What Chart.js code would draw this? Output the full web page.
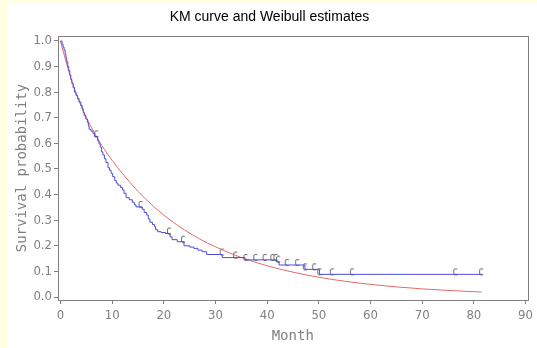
<!DOCTYPE html>
<html>
<head>
<meta charset="utf-8">
<script src="https://cdn.jsdelivr.net/npm/chart.js@4"></script>
<style>
  body { margin: 0; background: #ffffe1; }
  #wrap { position: absolute; left: 7px; top: 4px; width: 530px; height: 344px; background: #fff; }
</style>
</head>
<body>
<div id="wrap"><canvas id="km" width="530" height="344"></canvas></div>
<script>
// Kaplan-Meier estimate: month of each drop and survival after it
const kmMonths = [0, 0.3, 0.5, 0.7, 0.9, 1.05, 1.2, 1.4, 1.6, 1.8, 2.0, 2.2, 2.45, 2.7, 3.0, 3.3, 3.6, 3.95, 4.2, 4.4,
  4.6, 4.9, 5.2, 5.4, 5.55, 5.9, 6.3, 6.6, 7.2, 7.45, 7.7, 7.95, 8.2, 8.5, 8.8, 9.2, 9.5, 9.8, 10.1, 10.5,
  10.8, 11.1, 11.6, 12.0, 12.3, 12.7, 13.3, 13.9, 14.3, 14.6, 15.8, 16.2, 16.7, 17.0, 17.3, 17.8, 18.2, 18.4, 18.8, 19.5,
  20.3, 21.2, 21.6, 22.6, 23.9, 25.0, 25.8, 26.6, 27.4, 28.3, 31.3, 35.7, 41.75, 42.3, 47.3, 50.1, 81.6];
const kmSurv = [1.0, 0.988, 0.976, 0.965, 0.95, 0.935, 0.92, 0.9, 0.885, 0.867, 0.85, 0.834, 0.818, 0.8, 0.788, 0.775, 0.762, 0.748, 0.735, 0.72,
  0.708, 0.695, 0.682, 0.668, 0.655, 0.648, 0.638, 0.627, 0.61, 0.598, 0.585, 0.567, 0.555, 0.54, 0.525, 0.505, 0.495, 0.483, 0.47, 0.455,
  0.445, 0.437, 0.428, 0.418, 0.405, 0.388, 0.38, 0.37, 0.36, 0.352, 0.343, 0.33, 0.32, 0.305, 0.292, 0.283, 0.275, 0.263, 0.255, 0.252,
  0.248, 0.235, 0.224, 0.216, 0.2, 0.195, 0.19, 0.183, 0.177, 0.166, 0.154, 0.145, 0.138, 0.125, 0.108, 0.0885, 0.0885];

// censored observations (C marks)
const censMonths = [6.9, 15.5, 21.0, 23.7, 31.2, 33.8, 35.8, 37.7, 39.5, 41.0, 41.6, 42.1, 43.8, 45.8, 47.3, 49.1, 50.1, 52.5, 56.4, 76.4, 81.4];
const censSurv = [0.627, 0.352, 0.248, 0.216, 0.166, 0.154, 0.145, 0.145, 0.145, 0.145, 0.145, 0.138, 0.125, 0.125, 0.108, 0.108, 0.0885, 0.0885, 0.0885, 0.0885, 0.0885];

// Weibull fit
const wbMonths = [0, 0.5, 1, 2, 3, 4, 5, 6, 8, 10, 12, 15, 18, 21, 24, 27, 30, 35, 40, 45, 50, 55, 60, 65, 70, 75, 81.5];
const wbSurv = [1.0, 0.962, 0.925, 0.856, 0.797, 0.746, 0.702, 0.662, 0.592, 0.534, 0.482, 0.413, 0.354, 0.304, 0.262, 0.226,
  0.196, 0.154, 0.122, 0.097, 0.077, 0.0616, 0.0493, 0.0395, 0.0318, 0.0256, 0.0193];

const xTicks = [0, 10, 20, 30, 40, 50, 60, 70, 80, 90];
const yTicks = [0, 0.1, 0.2, 0.3, 0.4, 0.5, 0.6, 0.7, 0.8, 0.9, 1.0];

const blue = 'rgb(76, 76, 214)';
const red = 'rgb(228, 105, 105)';
const grey = '#808080';
const tickFont = { family: "'DejaVu Sans Condensed', 'DejaVu Sans', sans-serif", size: 13 };
const titleFont = { family: "'DejaVu Sans Mono', monospace", size: 14, lineHeight: 1 };

const pts = (xs, ys) => xs.map((x, i) => ({ x: x, y: ys[i] }));

// "C" glyph used as point style for censored times
const cMark = document.createElement('canvas');
cMark.width = 10;
cMark.height = 16;
const g = cMark.getContext('2d');
g.font = "8px 'DejaVu Sans Condensed', sans-serif";
g.fillStyle = '#404040';
g.textAlign = 'center';
g.fillText('C', 5, 8.5);

const frame = {
  id: 'frame',
  beforeDatasetsDraw(chart) {
    const a = chart.chartArea, ctx = chart.ctx;
    ctx.save();
    ctx.strokeStyle = grey;
    ctx.lineWidth = 1;
    ctx.strokeRect(Math.round(a.left) + 0.5, Math.round(a.top) + 0.5, Math.round(a.right - a.left), Math.round(a.bottom - a.top));
    ctx.restore();
  }
};

new Chart(document.getElementById('km'), {
  type: 'line',
  data: {
    datasets: [{
      data: pts(kmMonths, kmSurv),
      borderColor: blue,
      borderWidth: 1,
      stepped: true,
      pointRadius: 0
    }, {
      data: pts(wbMonths, wbSurv),
      borderColor: red,
      borderWidth: 1,
      cubicInterpolationMode: 'monotone',
      pointRadius: 0
    }, {
      data: pts(censMonths, censSurv),
      showLine: false,
      pointStyle: cMark,
      pointRadius: 4
    }]
  },
  options: {
    responsive: false,
    animation: false,
    devicePixelRatio: 1,
    layout: { padding: { left: 0, right: 5, top: 0, bottom: 0 } },
    plugins: {
      legend: { display: false },
      tooltip: { enabled: false },
      title: {
        display: true,
        text: 'KM curve and Weibull estimates',
        color: '#000',
        font: { family: "'Liberation Sans', Arial, sans-serif", size: 14, weight: 'normal', lineHeight: 1 },
        padding: { top: 6, bottom: 12 }
      }
    },
    scales: {
      x: {
        type: 'linear',
        min: -0.479,
        max: 90.383,
        afterBuildTicks: s => { s.ticks = xTicks.map(v => ({ value: v })); },
        afterFit: s => { s.height = 48; },
        grid: { drawOnChartArea: false, tickLength: 4, color: grey },
        border: { color: grey },
        ticks: { color: grey, font: tickFont, padding: 4, maxRotation: 0 },
        title: { display: true, text: 'Month', color: grey, font: titleFont, padding: { top: 0, bottom: 5 } }
      },
      y: {
        type: 'linear',
        min: -0.0117,
        max: 1.0195,
        afterBuildTicks: s => { s.ticks = yTicks.map(v => ({ value: v })); },
        afterFit: s => { s.width = 51; },
        grid: { drawOnChartArea: false, tickLength: 4, color: grey },
        border: { color: grey },
        ticks: { color: grey, font: tickFont, padding: 2, callback: v => Number(v).toFixed(1) },
        title: { display: true, text: 'Survival probability', color: grey, font: titleFont, padding: { top: 8, bottom: 0 } }
      }
    }
  },
  plugins: [frame]
});
</script>
</body>
</html>
